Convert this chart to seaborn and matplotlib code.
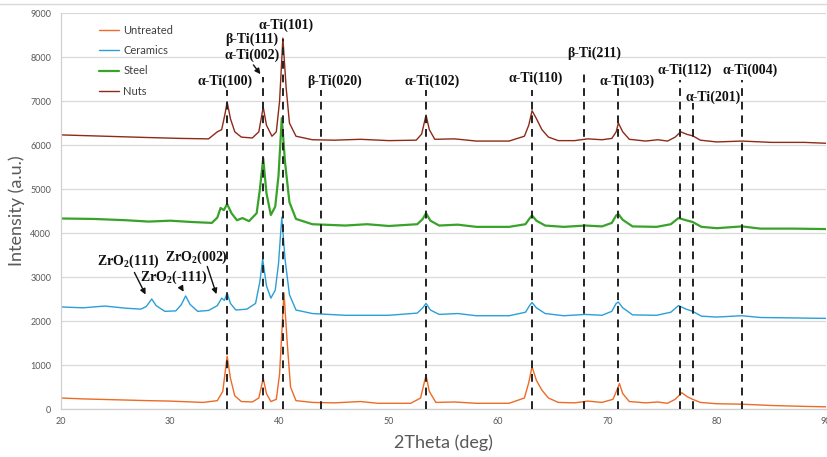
import numpy as np
import pandas as pd
import matplotlib
matplotlib.use('Agg')
import matplotlib.pyplot as plt
import seaborn as sns
from matplotlib.lines import Line2D

# ---- data (2theta in deg, intensity in a.u.) ----
untreated_tth = [20, 22, 25, 28, 30, 33, 34.3, 34.8, 35.2, 35.5, 35.9, 36.5, 37.5, 38.1, 38.5, 38.8, 39.2,
                 39.7, 40.0, 40.4, 40.7, 41.0, 41.5, 43, 45, 47.4, 49, 52, 52.9, 53.4, 53.7, 54.3, 56, 58, 61,
                 62.4, 62.8, 63.1, 63.5, 64, 64.6, 65.5, 67, 68.2, 69.5, 70.5, 70.9, 71.1, 71.4, 72, 73.5,
                 74.6, 75.5, 76.2, 76.8, 77.3, 77.8, 78.5, 80, 82.3, 85, 88, 90]
untreated_int = [250, 230, 210, 190, 180, 150, 190, 400, 1200, 700, 300, 170, 160, 250, 700, 350, 170,
                 220, 800, 2640, 1500, 500, 190, 150, 140, 170, 130, 130, 250, 770, 400, 150, 160, 130, 130,
                 250, 600, 960, 650, 430, 250, 150, 140, 180, 150, 220, 450, 580, 350, 170, 140,
                 160, 130, 220, 370, 280, 220, 150, 120, 110, 80, 60, 50]

ceramics_tth = [20, 22, 24, 26, 27.3, 27.8, 28.3, 28.7, 29.5, 30.5, 31.0, 31.4, 31.8, 32.5, 33.5, 34.3,
                34.7, 34.95, 35.2, 35.5, 36, 37, 37.8, 38.2, 38.45, 38.8, 39.2, 39.6, 39.9, 40.2, 40.5,
                40.9, 41.5, 43, 46, 50, 52.6, 53.1, 53.4, 53.8, 54.6, 56.3, 58, 61, 62.5, 62.9, 63.1, 63.5,
                64.3, 66, 68, 69.5, 70.4, 70.8, 71.0, 71.4, 72.3, 74.5, 75.8, 76.5, 77.2, 77.8, 78.6, 80,
                82.3, 84, 87, 90]
ceramics_int = [2320, 2300, 2340, 2290, 2270, 2330, 2500, 2350, 2220, 2230, 2370, 2570, 2380, 2220, 2240, 2350,
                2520, 2470, 2640, 2400, 2250, 2270, 2400, 2900, 3410, 2800, 2520, 2700, 3300, 4360, 3400,
                2600, 2250, 2170, 2130, 2130, 2180, 2300, 2400, 2250, 2150, 2170, 2120, 2120, 2200, 2360, 2420, 2300,
                2170, 2120, 2150, 2130, 2220, 2400, 2430, 2300, 2140, 2130, 2200, 2350, 2270, 2220, 2110, 2090,
                2120, 2080, 2070, 2060]

steel_tth = [20, 23, 26, 28, 30, 32, 33.8, 34.3, 34.6, 34.9, 35.2, 35.6, 36.1, 36.6, 37.2, 37.9, 38.2, 38.5,
             38.8, 39.2, 39.6, 39.9, 40.2, 40.5, 40.9, 41.5, 43, 46, 48, 50, 52.6, 53.1, 53.4, 53.8, 54.6,
             56.3, 58, 61, 62.5, 62.9, 63.1, 63.5, 64.3, 66, 68, 69.5, 70.4, 70.8, 71.0, 71.4, 72.3, 74.5,
             75.8, 76.5, 77.2, 77.8, 78.6, 80, 82.3, 84, 87, 90]
steel_int = [4330, 4320, 4290, 4260, 4280, 4250, 4230, 4350, 4570, 4520, 4660, 4450, 4290, 4340, 4270, 4450, 5000, 5700,
             4900, 4410, 4600, 5300, 6610, 5600, 4700, 4320, 4200, 4170, 4200, 4160, 4200, 4320, 4450, 4280, 4170,
             4190, 4140, 4140, 4200, 4340, 4400, 4280, 4170, 4140, 4170, 4150, 4230, 4400, 4430, 4300, 4150, 4140,
             4200, 4340, 4290, 4250, 4140, 4110, 4150, 4100, 4100, 4090]

nuts_tth = [20, 24, 28, 31, 33.5, 34.3, 34.7, 35.0, 35.2, 35.5, 35.9, 36.5, 37.5, 38.1, 38.5, 38.8, 39.3,
            39.7, 40.0, 40.3, 40.6, 40.9, 41.5, 43, 45, 47.4, 50, 52.5, 53.0, 53.4, 53.7, 54.2, 56, 58, 61,
            62.4, 62.8, 63.1, 63.5, 64, 64.6, 65.5, 67, 68.2, 69.5, 70.4, 70.8, 71.0, 71.4, 72, 73.5, 74.6,
            75.5, 76.2, 76.7, 77.3, 77.8, 78.5, 80, 82.3, 85, 88, 90]
nuts_int = [6230, 6200, 6170, 6150, 6140, 6300, 6350, 6700, 6980, 6600, 6300, 6180, 6160, 6300, 6860, 6450, 6200,
            6300, 7000, 8430, 7300, 6500, 6200, 6120, 6110, 6130, 6100, 6110, 6250, 6680, 6350, 6130, 6140, 6090, 6090,
            6200, 6450, 6780, 6600, 6350, 6180, 6100, 6100, 6140, 6120, 6150, 6300, 6500, 6300, 6130, 6090, 6120,
            6090, 6180, 6300, 6240, 6210, 6110, 6070, 6090, 6060, 6060, 6040]

# reference peak positions and how high the dashed marker goes
peak_pos = [35.2, 38.45, 40.35, 43.8, 53.4, 63.1, 67.9, 71.0, 76.6, 77.8, 82.3]
peak_top = [7250, 7550, 8400, 7250, 7250, 7250, 7700, 7300, 7480, 6950, 7480]

# phase labels: text, x, y
ti_labels = ['α-Ti(100)', 'β-Ti(111)', 'α-Ti(002)', 'α-Ti(101)', 'β-Ti(020)', 'α-Ti(102)', 'α-Ti(110)',
             'β-Ti(211)', 'α-Ti(103)', 'α-Ti(112)', 'α-Ti(201)', 'α-Ti(004)']
ti_label_x = [35.05, 37.5, 37.5, 40.6, 45.0, 53.95, 63.4, 68.8, 71.8, 77.1, 79.7, 83.1]
ti_label_y = [7455, 8410, 8045, 8730, 7455, 7455, 7520, 8090, 7455, 7700, 7090, 7700]

zro_labels = ['ZrO$_2$(111)', 'ZrO$_2$(-111)', 'ZrO$_2$(002)']
zro_label_x = [26.2, 30.35, 32.35]
zro_label_y = [3360, 3000, 3450]
zro_arrow_from = [(26.6, 3160), (30.9, 2800), (33.3, 3300)]
zro_arrow_to = [(27.85, 2545), (31.35, 2610), (34.3, 2550)]

series = [('Untreated', untreated_tth, untreated_int, '#EE6A26', 1.0),
          ('Ceramics', ceramics_tth, ceramics_int, '#2A9FD8', 1.0),
          ('Steel', steel_tth, steel_int, '#38A22A', 1.6),
          ('Nuts', nuts_tth, nuts_int, '#8E2A18', 1.0)]

sns.set_style('white')
plt.rcParams['font.family'] = ['Lato', 'DejaVu Sans']
plt.rcParams['mathtext.fontset'] = 'custom'
plt.rcParams['mathtext.rm'] = 'Liberation Serif:bold'
plt.rcParams['mathtext.bf'] = 'Liberation Serif:bold'
plt.rcParams['mathtext.default'] = 'bf'

fig = plt.figure(figsize=(8.27, 4.57), dpi=100)
ax = fig.add_axes([0.0738, 0.105, 0.925, 0.8665])

for name, tth, inten, color, lw in series:
    df = pd.DataFrame({'tth': tth, 'I': inten})
    sns.lineplot(data=df, x='tth', y='I', color=color, lw=lw, label=name, ax=ax, estimator=None, sort=False)

for pos, top in zip(peak_pos, peak_top):
    ax.plot([pos, pos], [0, top], color='#222222', lw=1.4, ls=(0, (4, 3)), zorder=5)

serif = dict(family='Liberation Serif', fontweight='bold', fontsize=10, color='#111111')
for txt, x, y in zip(ti_labels, ti_label_x, ti_label_y):
    ax.text(x, y, txt, ha='center', va='center', **serif)
ax.annotate('', xy=(38.4, 7560), xytext=(37.45, 7870),
            arrowprops=dict(arrowstyle='-|>', color='#111111', lw=1.0, mutation_scale=8))

for txt, x, y, a0, a1 in zip(zro_labels, zro_label_x, zro_label_y, zro_arrow_from, zro_arrow_to):
    ax.text(x, y, txt, ha='center', va='center', **serif)
    ax.annotate('', xy=a1, xytext=a0,
                arrowprops=dict(arrowstyle='-|>', color='#111111', lw=1.0, mutation_scale=8))

ax.set_xlim(20, 90)
ax.set_ylim(0, 9000)
ax.set_xticks(range(20, 91, 10))
ax.set_yticks(range(0, 9001, 1000))
ax.grid(axis='y', color='#D9D9D9', lw=0.9)
ax.set_axisbelow(True)
for s in ['top', 'right']:
    ax.spines[s].set_visible(False)
for s in ['left', 'bottom']:
    ax.spines[s].set_color('#D0D0D0')
    ax.spines[s].set_linewidth(0.9)
ax.tick_params(axis='y', length=0, labelsize=6.5, labelcolor='#595959', pad=7)
ax.tick_params(axis='x', length=0, labelsize=6.5, labelcolor='#595959', pad=6)

ax.set_xlabel('2Theta (deg)', fontsize=13, color='#595959', labelpad=6)
ax.set_ylabel('Intensity (a.u.)', fontsize=13, color='#595959', labelpad=4)

ax.legend(loc='upper left', bbox_to_anchor=(0.042, 0.985), frameon=False, fontsize=8,
          handlelength=1.8, handletextpad=0.4, labelspacing=0.85, borderpad=0, labelcolor='#404040')

fig.add_artist(Line2D([0, 1], [0.991, 0.991], color='#D9D9D9', lw=1.0, transform=fig.transFigure))

plt.savefig('out.png', dpi=100)
